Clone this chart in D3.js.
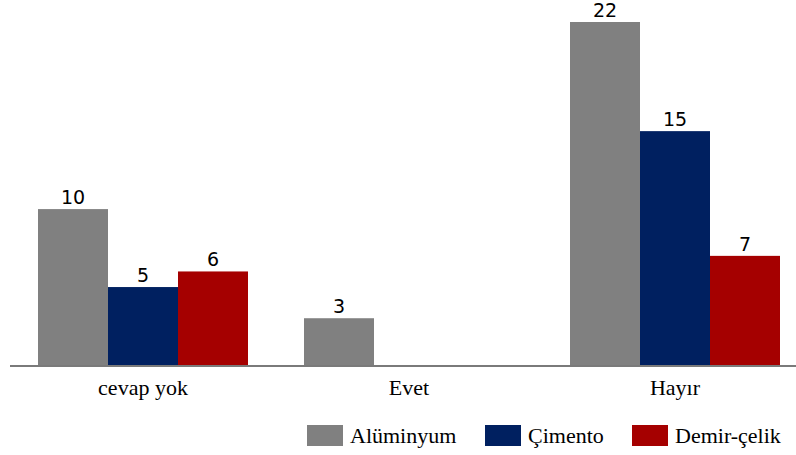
<!DOCTYPE html>
<html>
<head>
<meta charset="utf-8">
<script src="https://cdn.jsdelivr.net/npm/d3@7"></script>
<style>
  html, body { margin: 0; padding: 0; background: #ffffff; }
  svg { display: block; }
  .serif { font-family: "Liberation Serif", "DejaVu Serif", "Noto Serif", serif; }
  .num { font-family: "DejaVu Sans", Verdana, sans-serif; }
</style>
</head>
<body>
<svg id="chart" width="796" height="455"></svg>
<script>
// Responses per answer group, one array per sector
const categories = ["cevap yok", "Evet", "Hayır"];
const seriesNames = ["Alüminyum", "Çimento", "Demir-çelik"];
const aluminyum = [10, 3, 22];
const cimento = [5, null, 15];
const demirCelik = [6, null, 7];
const seriesColors = ["#808080", "#002060", "#A50000"];

const seriesValues = [aluminyum, cimento, demirCelik];

const svg = d3.select("#chart");
const baseY = 365;

// Outer band per answer group, inner band per sector
const x0 = d3.scaleBand().domain(categories).range([10, 808]);
const x1 = d3.scaleBand().domain(seriesNames).range([28, 238]);
const y = d3.scaleLinear().domain([0, 22]).range([baseY, 22]);

const groups = svg.selectAll("g.group")
  .data(categories)
  .join("g")
  .attr("class", "group")
  .attr("transform", d => `translate(${x0(d)},0)`);

groups.each(function(cat, ci) {
  const g = d3.select(this);
  const rows = seriesNames.map((s, si) => ({ s, si, v: seriesValues[si][ci] }))
    .filter(r => r.v != null);

  g.selectAll("rect")
    .data(rows)
    .join("rect")
    .attr("x", r => x1(r.s))
    .attr("y", r => y(r.v))
    .attr("width", x1.bandwidth())
    .attr("height", r => baseY - y(r.v))
    .attr("fill", r => seriesColors[r.si]);

  g.selectAll("text.num")
    .data(rows)
    .join("text")
    .attr("class", "num")
    .attr("x", r => x1(r.s) + x1.bandwidth() / 2)
    .attr("y", r => y(r.v) - 5)
    .attr("text-anchor", "middle")
    .style("font-size", "19px")
    .attr("fill", "#000")
    .text(r => r.v);
});

// Category axis: baseline and labels only
const xAxis = d3.axisBottom(x0).tickSize(0).tickPadding(13);
const axisG = svg.append("g")
  .attr("transform", `translate(0,${baseY + 1})`)
  .call(xAxis)
  .attr("font-family", null)
  .attr("font-size", null);
axisG.select(".domain").remove();
axisG.selectAll("text")
  .attr("class", "serif")
  .style("font-size", "22px")
  .attr("fill", "#000")
  .attr("dy", "0.71em");

svg.append("line")
  .attr("x1", 10).attr("x2", 796)
  .attr("y1", baseY + 1).attr("y2", baseY + 1)
  .attr("stroke", "#7a7a7a")
  .attr("stroke-width", 2);

// Legend
const legendX = [307, 485, 632];
const legend = svg.selectAll("g.legend")
  .data(seriesNames)
  .join("g")
  .attr("class", "legend")
  .attr("transform", (d, i) => `translate(${legendX[i]},425)`);
legend.append("rect")
  .attr("width", 36).attr("height", 21)
  .attr("fill", (d, i) => seriesColors[i]);
legend.append("text")
  .attr("class", "serif")
  .attr("x", 43).attr("y", 18)
  .style("font-size", "22px")
  .attr("fill", "#000")
  .text(d => d);
</script>
</body>
</html>
